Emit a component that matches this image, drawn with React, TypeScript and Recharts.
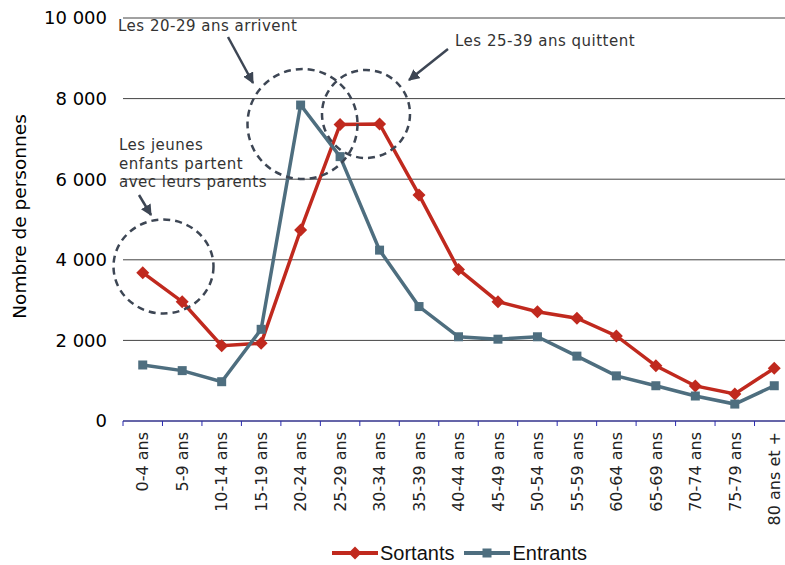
import { LineChart, Line, XAxis, YAxis, CartesianGrid, Legend } from 'recharts';

const categories = [
  '0-4 ans', '5-9 ans', '10-14 ans', '15-19 ans', '20-24 ans', '25-29 ans',
  '30-34 ans', '35-39 ans', '40-44 ans', '45-49 ans', '50-54 ans', '55-59 ans',
  '60-64 ans', '65-69 ans', '70-74 ans', '75-79 ans', '80 ans et +',
];
const sortants = [3680, 2960, 1870, 1930, 4740, 7360, 7370, 5610, 3760, 2960, 2710, 2550, 2110, 1370, 870, 670, 1310];
const entrants = [1390, 1250, 975, 2275, 7840, 6560, 4240, 2840, 2090, 2030, 2090, 1610, 1120, 875, 620, 420, 875];
const yTicks = [0, 2000, 4000, 6000, 8000, 10000];

const data = categories.map((age, i) => ({ age, sortants: sortants[i], entrants: entrants[i] }));

const RED = '#c0291e';
const BLUE = '#4e6e7f';
const INK = '#3d4654';
const W = 800;
const H = 565;
const MARGIN = { top: 18, right: 6, left: 0, bottom: 0 };
const Y_W = 123;
const HALF_BAND = (W - MARGIN.right - Y_W) / categories.length / 2;

const fmt = (v: number) => v.toLocaleString('fr-FR').replace(/\s/g, ' ');

const Diamond = ({ cx, cy }: any) => (
  <path d={`M${cx},${cy - 6.5} L${cx + 6.5},${cy} L${cx},${cy + 6.5} L${cx - 6.5},${cy} Z`} fill={RED} />
);
const Square = ({ cx, cy }: any) => <rect x={cx - 4.5} y={cy - 4.5} width={9} height={9} fill={BLUE} />;

function AgeTick({ x, y, payload, index }: any) {
  const last = index === categories.length - 1;
  return (
    <g>
      <line x1={x - HALF_BAND} x2={x - HALF_BAND} y1={y} y2={y + 5} stroke="#2a2ab0" />
      {last && <line x1={x + HALF_BAND} x2={x + HALF_BAND} y1={y} y2={y + 5} stroke="#2a2ab0" />}
      <text x={x} y={y + 11} transform={`rotate(-90 ${x} ${y + 11})`} textAnchor="end" dy="0.36em"
        fontSize={16} fill="#222" fontFamily="DejaVu Sans, Verdana, sans-serif">
        {payload.value}
      </text>
    </g>
  );
}

function LegendBox() {
  const item = (color: string, label: string, marker: 'd' | 's') => (
    <div style={{ display: 'flex', alignItems: 'center', marginRight: 10 }}>
      <svg width={46} height={14}>
        <line x1={0} x2={46} y1={7} y2={7} stroke={color} strokeWidth={4} />
        {marker === 'd'
          ? <path d="M23,0.5 L29.5,7 L23,13.5 L16.5,7 Z" fill={color} />
          : <rect x={18.5} y={2.5} width={9} height={9} fill={color} />}
      </svg>
      <span style={{ marginLeft: 2, color: '#111' }}>{label}</span>
    </div>
  );
  return (
    <div style={{ height: 24, display: 'flex', alignItems: 'center', paddingLeft: 332,
      fontFamily: '"Liberation Sans Narrow", "Liberation Sans", sans-serif', fontSize: 20 }}>
      {item(RED, 'Sortants', 'd')}
      {item(BLUE, 'Entrants', 's')}
    </div>
  );
}

export default function App() {
  const ann = { fontFamily: 'DejaVu Sans, Verdana, sans-serif', fontSize: 15, fill: '#333', letterSpacing: 0.5 };
  return (
    <div style={{ position: 'absolute', left: 0, top: 0, width: 785, height: 565, overflow: 'hidden', background: '#fff' }}>
      <LineChart width={W} height={H} data={data} margin={MARGIN}>
        <CartesianGrid vertical={false} stroke="#444" />
        <XAxis dataKey="age" scale="band" interval={0} height={120} tickSize={0} tickMargin={0}
          tickLine={false} stroke="#2a2ab0" tick={<AgeTick />} />
        <YAxis domain={[0, 10000]} ticks={yTicks} width={Y_W} axisLine={false} tickLine={false}
          tickSize={6} tickMargin={10} tickFormatter={fmt}
          tick={{ fontSize: 18, fill: '#000', fontFamily: 'DejaVu Sans, Verdana, sans-serif' }}
          label={{ value: 'Nombre de personnes', angle: -90, position: 'insideLeft', offset: 19, dy: -3,
            style: { fontSize: 18.5, fill: '#000', fontFamily: 'DejaVu Sans, Verdana, sans-serif', textAnchor: 'middle' } }} />
        <Legend verticalAlign="bottom" content={<LegendBox />} />
        <Line type="linear" dataKey="sortants" name="Sortants" stroke={RED} strokeWidth={3.5}
          dot={<Diamond />} activeDot={false} isAnimationActive={false} />
        <Line type="linear" dataKey="entrants" name="Entrants" stroke={BLUE} strokeWidth={3.5}
          dot={<Square />} activeDot={false} isAnimationActive={false} />
      </LineChart>

      {/* annotation overlay */}
      <svg width={785} height={565} style={{ position: 'absolute', left: 0, top: 0, pointerEvents: 'none' }}>
        <defs>
          <marker id="ah" viewBox="0 0 10 10" refX="9" refY="5" markerWidth="4.5" markerHeight="4.5" orient="auto">
            <path d="M0,0 L10,5 L0,10 Z" fill={INK} />
          </marker>
        </defs>
        <g fill="none" stroke={INK} strokeWidth={2.5} strokeDasharray="7 5">
          <ellipse cx={163.5} cy={266.5} rx={50} ry={47} />
          <ellipse cx={302.5} cy={124} rx={55} ry={55} />
          <ellipse cx={366} cy={114} rx={44} ry={44} />
        </g>
        <g stroke={INK} strokeWidth={2.5} markerEnd="url(#ah)">
          <line x1={228} y1={37} x2={253} y2={83} />
          <line x1={448} y1={49} x2={409} y2={80} />
          <line x1={139} y1={195} x2={151} y2={215} />
        </g>
        <text x={118} y={31} {...ann}>Les 20-29 ans arrivent</text>
        <text x={455} y={46} {...ann}>Les 25-39 ans quittent</text>
        <text x={119} y={150} {...ann}>Les jeunes</text>
        <text x={119} y={168.5} {...ann}>enfants partent</text>
        <text x={119} y={187} {...ann}>avec leurs parents</text>
      </svg>
    </div>
  );
}
